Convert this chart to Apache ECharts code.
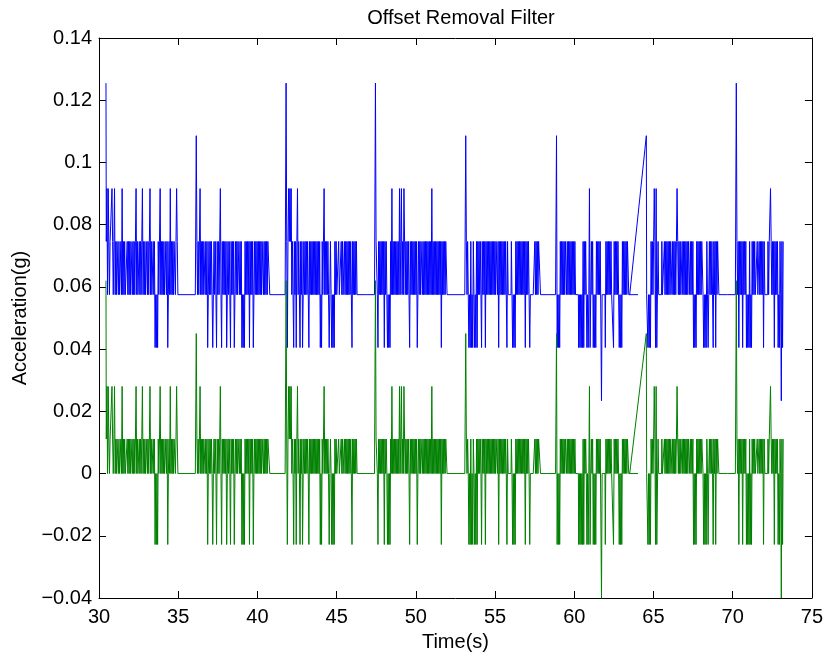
<!DOCTYPE html>
<html>
<head>
<meta charset="utf-8">
<title>Offset Removal Filter</title>
<script src="https://cdn.jsdelivr.net/npm/echarts@6/dist/echarts.min.js"></script>
<style>
  html, body { margin: 0; padding: 0; background: #fff; }
  #main { width: 826px; height: 657px; }
</style>
</head>
<body>
<div id="main"></div>
<script>
// sample step inside a burst (s)
var dt = 0.04;

// start time of each burst (s)
var segStarts = [30.44, 36.08, 41.75, 47.39, 53.09, 58.82, 64.55, 70.17];

// level codes, one per sample
// 0 deep dip, 1 low, 2 base, 3 upper, 4..6 spikes
var seg1 = [6,3,4,2,4,3,2,3,3,3, 4,3,2,3,4,2,3,2,3,3,
            2,3,2,2,3,2,4,2,3,2, 3,2,2,2,3,2,3,2,3,2,
            3,3,2,3,2,3,2,3,4,2, 3,2,2,3,2,3,2,3,4,2,
            3,2,3,2,2,3,2,3,2,3, 4,2,3,2,2,3,2,3,1,2,
            1,2,1,3,2,3,4,2,3,2, 3,2,3,2,2,3,2,3,1,2,
            3,2,4,2,3,2,3,2,3,3, 2,3,4,3,2,2];
var seg2 = [2,2,5,3,2,3,2,3,4,2, 3,2,3,2,3,3,2,3,2,3,
            1,2,3,2,3,2,3,2,1,2, 3,2,3,2,1,3,2,3,2,3,
            4,2,1,3,2,3,2,3,2,3, 1,2,3,2,3,2,1,3,2,3,
            2,3,1,2,3,2,3,2,3,3, 2,3,2,3,1,2,1,2,1,3,
            2,3,2,3,2,3,1,3,2,3, 2,3,1,2,3,2,3,2,3,2,
            3,2,3,2,3,2,3,3,2,3, 2,3,2,3,2,3,3,3,2,2];
var seg3 = [2,2,6,3,1,3,4,3,4,3, 4,2,3,2,1,3,2,3,1,3,
            4,2,3,2,1,3,2,3,1,2, 3,2,3,2,3,2,3,2,1,3,
            2,3,2,3,2,3,2,3,2,3, 2,3,2,3,2,3,1,2,1,3,
            2,3,4,2,3,2,3,2,3,2, 1,2,3,2,1,2,1,2,1,3,
            2,3,2,2,2,3,2,2,2,3, 2,3,2,2,3,2,3,2,3,2,
            3,2,3,2,3,2,1,3,2,3, 2,3,2,3,2,2];
var seg4 = [2,2,6,3,3,2,1,3,2,3, 2,3,2,3,2,3,1,3,2,3,
            2,1,2,1,2,1,3,2,4,2, 3,2,3,2,3,2,3,2,3,2,
            4,2,3,4,2,3,2,4,3,2, 3,2,3,2,3,2,1,3,2,3,
            2,3,2,3,2,3,2,3,1,2, 3,2,3,2,3,3,2,3,2,3,
            2,3,2,3,2,3,2,3,2,3, 2,4,2,3,2,3,2,3,2,3,
            2,3,2,3,2,3,1,3,2,3, 2,3,2,3,3,2];
var seg5 = [2,2,5,3,2,3,2,1,2,1, 3,1,2,1,3,2,1,2,1,3,
            1,3,2,3,2,3,2,1,3,2, 3,2,3,1,3,2,3,2,3,2,
            3,2,3,2,3,2,3,2,3,2, 3,3,2,3,1,3,2,3,2,3,
            2,3,2,3,2,3,2,1,3,2, 2,2,2,2,3,2,1,2,1,2,
            1,3,2,3,2,3,2,3,2,3, 2,3,2,3,2,3,1,3,2,3,
            2,3,2,1,2,2,2,2,2,2, 2,3,2,3,2,3,2,3,3,3,2];
var seg6 = [2,2,5,1,2,1,2,1,3,2, 3,2,3,2,3,2,3,3,2,3,
            2,3,2,3,2,3,2,3,2,3, 2,3,2,2,2,2,2,1,2,1,
            2,1,2,1,3,1,3,2,3,2, 1,2,1,2,4,1,2,3,2,3,
            1,2,1,2,1,3,2,3,2,3, 2,3,3,0,2,2,2,2,2,1,
            3,2,3,2,3,2,3,2,3,2, 2,2,1,3,2,3,2,3,2,3,
            2,1,2,1,2,1,3,2,3,2, 3,2,3,2,3,3,2,2];
var seg7 = [5,2,2,1,2,1,2,1,3,2, 3,2,3,4,3,1,4,1,1,3,
            2,2,2,2,2,3,2,2,2,3, 2,3,2,3,2,3,2,3,2,3,
            3,2,3,2,3,2,3,2,3,4, 3,2,3,2,3,2,2,3,2,3,
            2,3,2,3,2,3,2,3,3,2, 3,2,3,2,3,1,2,1,2,1,
            3,2,3,2,3,2,3,2,3,3, 2,1,2,1,2,1,3,2,1,2,
            3,2,3,2,3,2,1,3,2,3, 1,3,2,3,3,2];
var seg8 = [2,2,6,3,2,3,1,3,2,3, 2,3,1,3,2,3,2,3,1,2,
            1,2,1,3,1,2,1,3,2,3, 2,3,2,2,2,3,2,2,3,2,
            3,2,3,2,3,1,3,2,2,2, 2,2,3,2,3,3,4,3,2,3,
            2,3,1,3,2,3,2,3,1,2, 1,3,2,0,3,1,3];

// value of each level code: raw signal and offset-removed signal
var rawLevels = [0.0234, 0.0405, 0.0575, 0.0746, 0.0916, 0.1086, 0.1255];
var filteredLevels = [-0.0401, -0.0228, 0, 0.0111, 0.028, 0.045, 0.062];

var segments = [seg1, seg2, seg3, seg4, seg5, seg6, seg7, seg8];
// the recording has a gap after this burst; the plot joins it with a straight line
var gapAfterSeg = 5;

function segPoints(k, levels) {
  return segments[k].map(function (code, i) {
    return [segStarts[k] + i * dt, levels[code]];
  });
}

function buildSeries(levels) {
  var out = [];
  segments.forEach(function (seg, k) {
    out = out.concat(segPoints(k, levels));
    if (k === gapAfterSeg) out.push([segStarts[k + 1], null]);
  });
  return out;
}

function buildGap(levels) {
  var a = segPoints(gapAfterSeg, levels);
  var b = segPoints(gapAfterSeg + 1, levels);
  return [a[a.length - 1], b[0]];
}

var font = "'Liberation Sans', Arial, Helvetica, sans-serif";

function fmtY(v) {
  var r = Math.round(v * 100) / 100;
  if (r === 0) return '0';
  return (r < 0 ? '\u2212' : '') + String(Math.abs(r));
}

function xAx(pos, main) {
  return {
    type: 'value', position: pos, min: 30, max: 75, interval: 5,
    axisLine: { show: true, onZero: false, lineStyle: { color: '#000', width: 1 } },
    axisTick: { show: true, inside: true, length: 7, lineStyle: { color: '#000' } },
    axisLabel: { show: main, color: '#000', fontSize: 20, fontFamily: font, margin: 9 },
    splitLine: { show: false },
    name: main ? 'Time(s)' : '',
    nameLocation: 'middle', nameGap: 34,
    nameTextStyle: { color: '#000', fontSize: 20, fontFamily: font }
  };
}

function yAx(pos, main) {
  return {
    type: 'value', position: pos, min: -0.04, max: 0.14, interval: 0.02,
    axisLine: { show: true, onZero: false, lineStyle: { color: '#000', width: 1 } },
    axisTick: { show: true, inside: true, length: 7, lineStyle: { color: '#000' } },
    axisLabel: { show: main, color: '#000', fontSize: 20, fontFamily: font, margin: 7, formatter: fmtY },
    splitLine: { show: false },
    name: main ? 'Acceleration(g)' : '',
    nameLocation: 'middle', nameGap: 66,
    nameTextStyle: { color: '#000', fontSize: 20, fontFamily: font }
  };
}

function lineSeries(name, data, color, step) {
  return {
    name: name, type: 'line', xAxisIndex: 0, yAxisIndex: 0,
    data: data, step: step, connectNulls: false,
    showSymbol: false, symbol: 'none', sampling: null,
    lineStyle: { color: color, width: 1 },
    itemStyle: { color: color }
  };
}

var myChart = echarts.init(document.getElementById('main'), null, { renderer: 'canvas' });
var option = {
  backgroundColor: '#fff',
  animation: false,
  title: {
    text: 'Offset Removal Filter',
    left: 456, top: 3, textAlign: 'center',
    textStyle: { color: '#000', fontSize: 20, fontWeight: 'normal', fontFamily: font }
  },
  grid: { left: 99, top: 38, width: 714, height: 563 },
  xAxis: [xAx('bottom', true), xAx('top', false)],
  yAxis: [yAx('left', true), yAx('right', false)],
  series: [
    lineSeries('raw', buildSeries(rawLevels), '#0000ff', 'middle'),
    lineSeries('raw gap', buildGap(rawLevels), '#0000ff', false),
    lineSeries('filtered', buildSeries(filteredLevels), '#008000', 'middle'),
    lineSeries('filtered gap', buildGap(filteredLevels), '#008000', false)
  ]
};
myChart.setOption(option);
</script>
</body>
</html>
